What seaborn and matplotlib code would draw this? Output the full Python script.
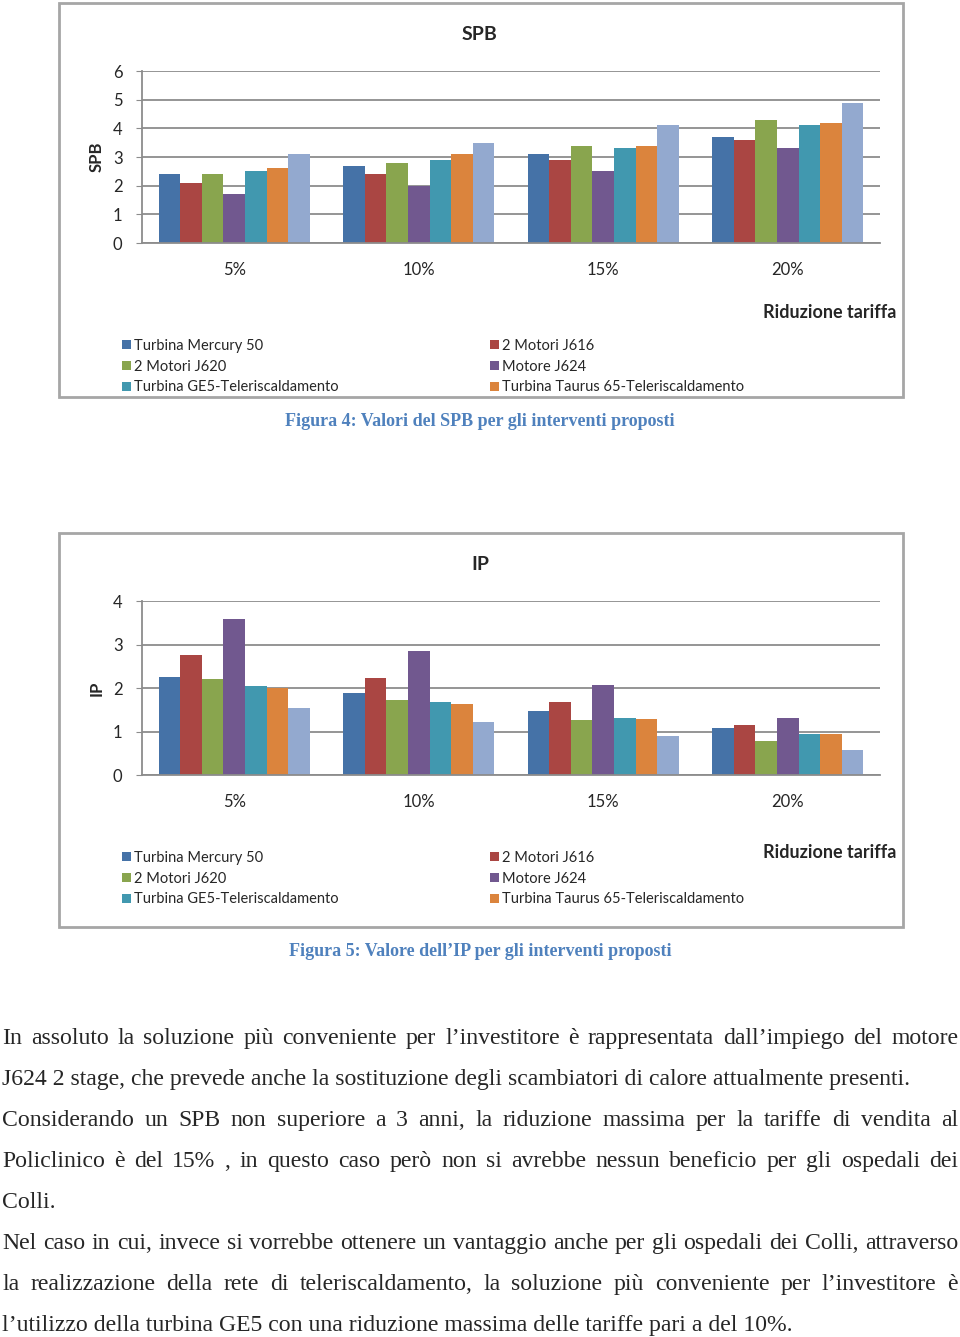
import numpy as np
import pandas as pd
import matplotlib
matplotlib.use("Agg")
import matplotlib.pyplot as plt
import seaborn as sns
from matplotlib.patches import Rectangle, Patch

# Data
categories = ["5%", "10%", "15%", "20%"]
series = ["Turbina Mercury 50", "2 Motori J616", "2 Motori J620", "Motore J624",
          "Turbina GE5-Teleriscaldamento", "Turbina Taurus 65-Teleriscaldamento",
          "Serie 7"]
colors = ["#4572A7", "#AA4643", "#89A54E", "#71588F", "#4198AF", "#DB843D", "#93A9CF"]

spb_values = [
    [2.4, 2.7, 3.1, 3.7],   # Turbina Mercury 50
    [2.1, 2.4, 2.9, 3.6],   # 2 Motori J616
    [2.4, 2.8, 3.4, 4.3],   # 2 Motori J620
    [1.7, 2.0, 2.5, 3.3],   # Motore J624
    [2.5, 2.9, 3.3, 4.1],   # Turbina GE5
    [2.6, 3.1, 3.4, 4.2],   # Turbina Taurus 65
    [3.1, 3.5, 4.1, 4.9],   # serie non in legenda
]
ip_values = [
    [2.25, 1.88, 1.48, 1.09],
    [2.75, 2.22, 1.67, 1.14],
    [2.21, 1.73, 1.26, 0.79],
    [3.59, 2.84, 2.08, 1.32],
    [2.04, 1.67, 1.31, 0.94],
    [1.99, 1.64, 1.29, 0.95],
    [1.53, 1.21, 0.89, 0.58],
]

body_lines = [
    ("In assoluto la soluzione più conveniente per l’investitore è rappresentata dall’impiego del motore", True),
    ("J624 2 stage, che prevede anche la sostituzione degli scambiatori di calore attualmente presenti.", False),
    ("Considerando un SPB non superiore a 3 anni, la riduzione massima per la tariffe di vendita al", True),
    ("Policlinico è del 15% , in questo caso però non si avrebbe nessun beneficio per gli ospedali dei", True),
    ("Colli.", False),
    ("Nel caso in cui, invece si vorrebbe ottenere un vantaggio anche per gli ospedali dei Colli, attraverso", True),
    ("la realizzazione della rete di teleriscaldamento, la soluzione più conveniente per l’investitore è", True),
    ("l’utilizzo della turbina GE5 con una riduzione massima delle tariffe pari a del 10%.", False),
]

W, H = 960, 1337
sns.set_style("white")
plt.rcParams['font.family'] = ['Lato', 'DejaVu Sans']

fig = plt.figure(figsize=(W / 100, H / 100), dpi=100)


def box(x0, y0, x1, y1):
    return [x0 / W, 1 - y1 / H, (x1 - x0) / W, (y1 - y0) / H]


def fx(x):
    return x / W


def fy(y):
    return 1 - y / H


grid_col = "#8c8c8c"


def make_chart(values, top, bottom, ymax, title, frame, rid_y, leg_y, cap, cap_y):
    df = pd.DataFrame(values, index=series, columns=categories)
    long = df.reset_index().melt(id_vars="index", var_name="Riduzione", value_name="val")
    long = long.rename(columns={"index": "Serie"})

    ax = fig.add_axes(box(142, top, 880, bottom))
    sns.barplot(data=long, x="Riduzione", y="val", hue="Serie", order=categories,
                hue_order=series, palette=colors, width=0.82, saturation=1,
                linewidth=0, ax=ax, legend=False)
    ax.set_xlim(-0.5, 3.5)
    ax.set_ylim(0, ymax)
    ax.set_yticks(range(0, ymax + 1))
    ax.yaxis.grid(True, color=grid_col, linewidth=1.3)
    ax.set_axisbelow(True)
    for s in ["top", "right"]:
        ax.spines[s].set_visible(False)
    for s in ["left", "bottom"]:
        ax.spines[s].set_color(grid_col)
        ax.spines[s].set_linewidth(1.3)
    ax.tick_params(axis="y", length=4, color=grid_col, labelsize=12, pad=10, left=True)
    ax.tick_params(axis="x", length=0, labelsize=12, pad=14)
    ax.set_xlabel("")
    ax.set_ylabel("")

    # chart frame
    fig.patches.append(Rectangle((fx(frame[0]), fy(frame[3])),
                                 (frame[2] - frame[0]) / W, (frame[3] - frame[1]) / H,
                                 transform=fig.transFigure, fill=False,
                                 edgecolor="#a6a6a6", linewidth=2))
    fig.text(fx(480), fy(frame[1] + 31), title, ha="center", va="center",
             fontsize=14, fontweight="bold")
    fig.text(fx(97), fy((top + bottom) / 2), title, ha="center", va="center",
             rotation=90, fontsize=12, fontweight="bold")
    fig.text(fx(896), fy(rid_y + 1), "Riduzione tariffa", ha="right", va="center",
             fontsize=13, fontweight="bold")

    handles = [Patch(facecolor=c, edgecolor="none") for c in colors]
    for col_x, idx in [(122, [0, 2, 4]), (490, [1, 3, 5])]:
        fig.legend([handles[i] for i in idx], [series[i] for i in idx],
                   loc="upper left", bbox_to_anchor=(fx(col_x), fy(leg_y - 5)),
                   frameon=False, fontsize=10.5, handlelength=0.6, handleheight=0.6,
                   handletextpad=0.25, labelspacing=0.46, borderpad=0, borderaxespad=0)

    fig.text(fx(480), fy(cap_y), cap, ha="center", va="center", fontsize=13,
             fontweight="bold", color="#4F81BD", family=["Liberation Serif"])
    return ax


make_chart(spb_values, 71, 243, 6, "SPB", (59, 3, 903, 397), 311, 344,
           "Figura 4: Valori del SPB per gli interventi proposti", 421)
make_chart(ip_values, 601, 775, 4, "IP", (59, 533, 903, 927), 852, 856,
           "Figura 5: Valore dell’IP per gli interventi proposti", 952)

# body text, justified lines (words placed on a common baseline)
fig.canvas.draw()
renderer = fig.canvas.get_renderer()
body_font = dict(fontsize=17.1, family=["Liberation Serif"])
left_px, right_px = 2, 958
line_y = 1037
for text, justify in body_lines:
    base = fy(line_y + 7)
    if not justify:
        fig.text(fx(left_px), base, text, ha="left", va="baseline", **body_font)
    else:
        words = text.split(" ")
        widths = []
        for w in words:
            t = fig.text(0, 0, w, **body_font)
            widths.append(t.get_window_extent(renderer).width)
            t.remove()
        gap = (right_px - left_px - sum(widths)) / (len(words) - 1)
        x = left_px
        for w, wd in zip(words, widths):
            fig.text(fx(x), base, w, ha="left", va="baseline", **body_font)
            x += wd + gap
    line_y += 41

fig.savefig("out.png", dpi=100)
